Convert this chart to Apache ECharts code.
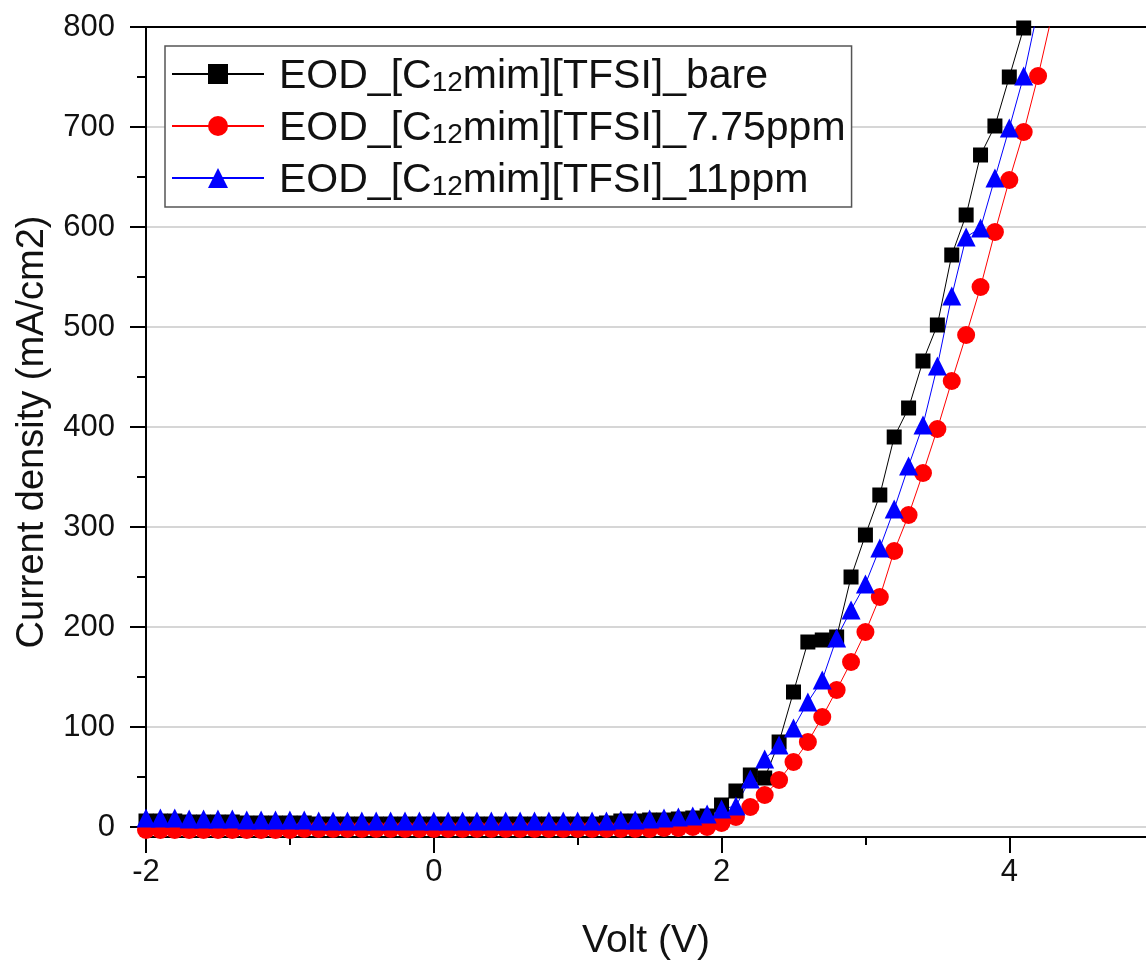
<!DOCTYPE html>
<html>
<head>
<meta charset="utf-8">
<script src="https://cdn.jsdelivr.net/npm/echarts@6/dist/echarts.min.js"></script>
<style>
html,body{margin:0;padding:0;background:#fff;}
#chart{width:1146px;height:969px;}
</style>
</head>
<body>
<div id="chart"></div>
<script>
// ---- data ----
const volt = [-2.0,-1.9,-1.8,-1.7,-1.6,-1.5,-1.4,-1.3,-1.2,-1.1,-1.0,-0.9,-0.8,-0.7,-0.6,-0.5,-0.4,-0.3,-0.2,-0.1,
  0.0,0.1,0.2,0.3,0.4,0.5,0.6,0.7,0.8,0.9,1.0,1.1,1.2,1.3,1.4,1.5,1.6,1.7,1.8,1.9,
  2.0,2.1,2.2,2.3,2.4,2.5,2.6,2.7,2.8,2.9,3.0,3.1,3.2,3.3,3.4,3.5,3.6,3.7,3.8,3.9,
  4.0,4.1,4.2,4.3];
const bare = [6,6,6,5,5,5,5,4,4,4,4,4,3,3,3,3,3,3,3,3,
  3,3,3,3,3,3,3,3,3,3,3,3,4,6,6,7,7,8,9,11,
  22,36,52,49,85,135,185,187,190,250,292,332,390,419,466,502,572,612,672,701,
  750,799,null,null];
const ppm775 = [-3,-3,-3,-3,-3,-3,-3,-3,-3,-3,-3,-2,-2,-2,-2,-2,-2,-2,-2,-2,
  -2,-2,-2,-2,-2,-2,-2,-2,-2,-2,-2,-2,-2,-2,-2,-2,-1,-1,0,0,
  4,10,20,32,47,65,85,110,137,165,195,230,276,312,354,398,446,492,540,595,
  647,695,751,814];
const ppm11 = [9,9,9,8,8,8,8,7,7,7,7,7,6,6,6,6,6,6,6,6,
  6,6,6,6,6,6,6,6,6,6,6,6,6,7,7,8,9,10,11,13,
  18,21,48,68,82,99,125,147,189,217,243,279,318,361,402,461,531,590,599,649,
  699,751,818,null];
const seriesNames = ['EOD_[C12mim][TFSI]_bare','EOD_[C12mim][TFSI]_7.75ppm','EOD_[C12mim][TFSI]_11ppm'];
const xTicks = [-2,0,2,4];
const xMinorTicks = [-1,1,3];
const yTicks = [0,100,200,300,400,500,600,700,800];
const yMinorTicks = [50,150,250,350,450,550,650,750];

function pairs(vals){
  const out = [];
  for (let i = 0; i < volt.length; i++) if (vals[i] !== null && vals[i] !== undefined) out.push([volt[i], vals[i]]);
  return out;
}

const FONT = '"Liberation Sans", Arial, sans-serif';
const TXT = '#111';
const chart = echarts.init(document.getElementById('chart'), null, {renderer:'canvas'});

const mk = (name, vals, color, symbol, size) => ({
  name, type:'line', data: pairs(vals), xAxisIndex:0, yAxisIndex:0,
  symbol, symbolSize:size, showSymbol:true, clip:true, animation:false,
  lineStyle:{color, width:1}, itemStyle:{color, borderWidth:0},
  emphasis:{disabled:true}
});

chart.setOption({
  animation:false,
  backgroundColor:'#fff',
  textStyle:{fontFamily:FONT},
  grid:{left:146, top:27, right:0, bottom:132, containLabel:false},
  legend:{
    left:165, top:46, orient:'vertical',
    padding:[5,6,6,6], itemGap:6, itemWidth:92, itemHeight:25,
    backgroundColor:'#fff', borderColor:'#555', borderWidth:1.5, borderRadius:0,
    data: seriesNames,
    formatter: n => '{g|}{a|' + n.replace('C12', 'C}{s|12}{a|') + '}',
    textStyle:{
      fontFamily:FONT, color:'#111', fontSize:41, lineHeight:46,
      rich:{
        g:{width:10},
        a:{fontFamily:FONT, fontSize:41, lineHeight:46, color:'#111', verticalAlign:'bottom'},
        s:{fontFamily:FONT, fontSize:28, lineHeight:33, color:'#111', verticalAlign:'bottom'}
      }
    }
  },
  xAxis:[
    {type:'value', min:-2, max:4.95, position:'bottom',
     name:'Volt (V)', nameLocation:'middle', nameGap:85,
     nameTextStyle:{fontFamily:FONT, fontSize:39, color:TXT},
     axisLine:{onZero:false, lineStyle:{color:'#000', width:2}},
     axisTick:{show:true, length:16, customValues:xTicks, lineStyle:{color:'#000', width:2}},
     axisLabel:{customValues:xTicks, margin:20, fontSize:31, color:TXT, fontFamily:FONT},
     splitLine:{show:false}},
    {type:'value', min:-2, max:4.95, position:'bottom',
     axisLine:{show:false, onZero:false},
     axisTick:{show:true, length:8, customValues:xMinorTicks, lineStyle:{color:'#000', width:2}},
     axisLabel:{show:false}, splitLine:{show:false}},
    {type:'value', min:-2, max:4.95, position:'top',
     axisLine:{show:true, onZero:false, lineStyle:{color:'#000', width:2}},
     axisTick:{show:false}, axisLabel:{show:false}, splitLine:{show:false}}
  ],
  yAxis:[
    {type:'value', min:-10, max:800, position:'left',
     name:'Current density (mA/cm2)', nameLocation:'middle', nameGap:94,
     nameTextStyle:{fontFamily:FONT, fontSize:38, color:TXT},
     axisLine:{onZero:false, lineStyle:{color:'#000', width:2}},
     axisTick:{show:true, length:16, customValues:yTicks, lineStyle:{color:'#000', width:2}},
     axisLabel:{customValues:yTicks, margin:31, fontSize:31, color:TXT, fontFamily:FONT},
     splitLine:{show:true, lineStyle:{color:'#c8c8c8', width:1.5}}},
    {type:'value', min:-10, max:800, position:'left',
     axisLine:{show:false, onZero:false},
     axisTick:{show:true, length:9, customValues:yMinorTicks, lineStyle:{color:'#000', width:2}},
     axisLabel:{show:false}, splitLine:{show:false}}
  ],
  series:[
    mk(seriesNames[0], bare, '#000000', 'rect', 15),
    mk(seriesNames[1], ppm775, '#ff0000', 'circle', 18),
    mk(seriesNames[2], ppm11, '#0000ff', 'triangle', 19)
  ]
});
</script>
</body>
</html>
